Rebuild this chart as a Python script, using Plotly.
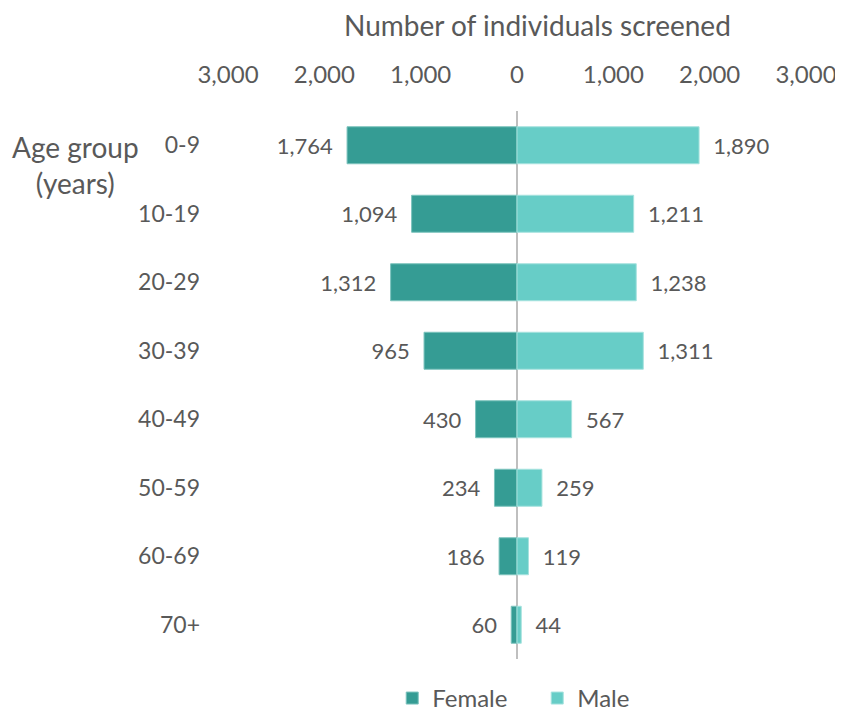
import plotly.graph_objects as go

age_groups = ["0-9", "10-19", "20-29", "30-39", "40-49", "50-59", "60-69", "70+"]
female = [1764, 1094, 1312, 965, 430, 234, 186, 60]
male = [1890, 1211, 1238, 1311, 567, 259, 119, 44]
tick_vals = [-3000, -2000, -1000, 0, 1000, 2000, 3000]
tick_text = ["3,000", "2,000", "1,000", "0", "1,000", "2,000", "3,000"]

FEMALE_C = "#359C94"
MALE_C = "#67CDC7"
TXT = "#595959"
FONT = "Lato, Open Sans, sans-serif"
PAD = "\u00a0\u00a0"

fig = go.Figure()
fig.add_trace(go.Bar(
    y=age_groups, x=[-v for v in female], orientation="h", name="Female",
    marker=dict(color=FEMALE_C, line=dict(color="#7CC3BD", width=1)),
    text=[f"{v:,}{PAD}" for v in female], textposition="outside",
    textfont=dict(size=22, color=TXT, family=FONT), cliponaxis=False,
    hoverinfo="skip",
))
fig.add_trace(go.Bar(
    y=age_groups, x=male, orientation="h", name="Male",
    marker=dict(color=MALE_C, line=dict(color="#A6E2DE", width=1)),
    text=[f"{PAD}{v:,}" for v in male], textposition="outside",
    textfont=dict(size=22, color=TXT, family=FONT), cliponaxis=False,
    hoverinfo="skip",
))

fig.update_layout(
    width=843, height=712,
    margin=dict(l=220, r=45, t=103, b=61, autoexpand=False),
    paper_bgcolor="white", plot_bgcolor="white",
    barmode="overlay", bargap=0.46,
    font=dict(family=FONT, color=TXT, size=22),
    showlegend=True,
    legend=dict(orientation="h", x=0.535, xanchor="center", y=-0.072, yanchor="middle",
                font=dict(size=24, color=TXT), itemwidth=30, traceorder="normal",
                entrywidth=100, entrywidthmode="pixels"),
    xaxis=dict(range=[-3000, 3000], side="top", tickvals=tick_vals, ticktext=tick_text,
               showgrid=False, zeroline=True, zerolinecolor="#BFBFBF", zerolinewidth=1.5,
               showline=False, ticks="", tickfont=dict(size=24, color=TXT),
               ticklabelstandoff=22, automargin=False),
    yaxis=dict(categoryorder="array", categoryarray=age_groups, autorange="reversed",
               showgrid=False, zeroline=False, showline=False, ticks="",
               tickfont=dict(size=23, color=TXT), ticklabelstandoff=27, automargin=False),
    annotations=[
        dict(text="Number of individuals screened", xref="paper", yref="paper",
             x=0.536, y=1.0, yshift=86, showarrow=False, xanchor="center", yanchor="middle",
             font=dict(size=28, color=TXT)),
        dict(text="Age group<br>(years)", xref="paper", yref="paper",
             x=-0.263, y=0.901, showarrow=False, xanchor="center", yanchor="middle",
             font=dict(size=28, color=TXT)),
    ],
)

fig.write_html("out.html")
